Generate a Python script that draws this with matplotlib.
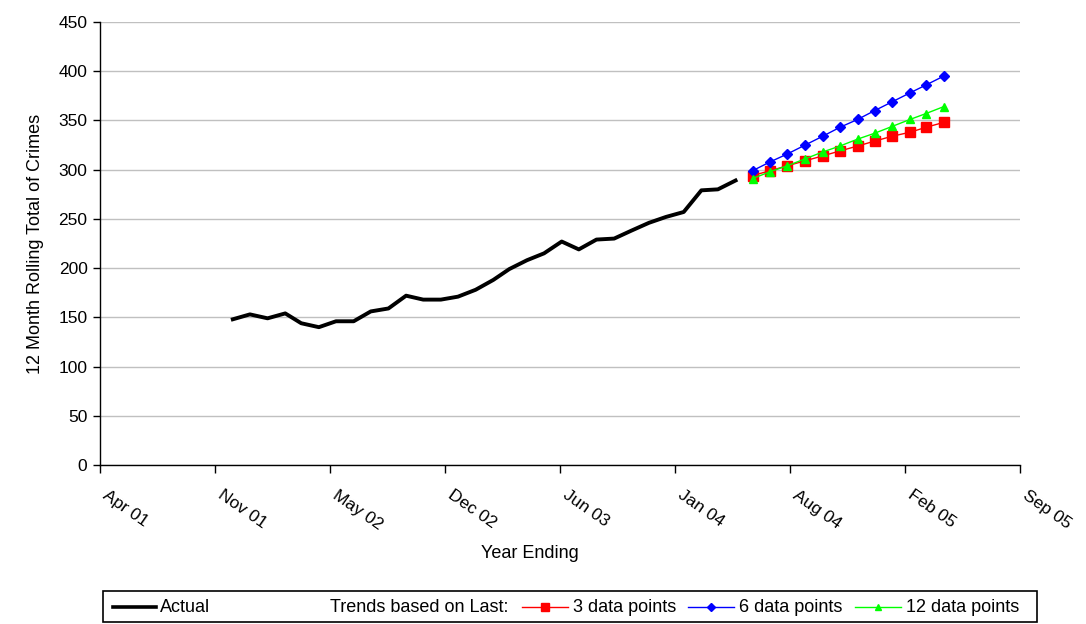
import datetime as dt
import numpy as np
import matplotlib
matplotlib.use("Agg")
import matplotlib.pyplot as plt
import matplotlib.dates as mdates
import matplotlib.transforms as mtransforms
from matplotlib.lines import Line2D
from matplotlib.patches import Rectangle

plt.rcParams["font.family"] = ["Liberation Sans", "DejaVu Sans"]

# 12 month rolling totals, Nov 2001 - Apr 2004
actual_months = [(2001, m) for m in (11, 12)] + [(2002, m) for m in range(1, 13)] \
    + [(2003, m) for m in range(1, 13)] + [(2004, m) for m in range(1, 5)]
actual_values = [148, 153, 149, 154, 144, 140, 146, 146, 156, 159, 172, 168,
                 168, 171, 178, 188, 199, 208, 215, 227, 219, 229, 230, 238,
                 246, 252, 257, 279, 280, 289]

# Projections, May 2004 - Apr 2005
trend_months = [(2004, m) for m in range(5, 13)] + [(2005, m) for m in range(1, 5)]
trend_3 = [294, 299, 304, 309, 314, 319, 324, 329, 334, 338, 343, 348]
trend_6 = [299, 308, 316, 325, 334, 343, 351, 360, 369, 378, 386, 395]
trend_12 = [291, 298, 304, 311, 318, 324, 331, 337, 344, 351, 357, 364]

tick_labels = ["Apr 01", "Nov 01", "May 02", "Dec 02", "Jun 03",
               "Jan 04", "Aug 04", "Feb 05", "Sep 05"]
y_ticks = list(range(0, 451, 50))

def to_dates(months):
    return [dt.date(y, m, 20) for y, m in months]

W, H = 1086, 624
fig = plt.figure(figsize=(W / 100, H / 100), dpi=100)
ax = fig.add_axes([100 / W, 1 - 465 / H, 920 / W, 443 / H])

x_start = mdates.date2num(dt.date(2001, 4, 1))
x_end = mdates.date2num(dt.date(2005, 9, 1))
ax.set_xlim(x_start, x_end)
ax.set_ylim(0, 450)

ax.plot(to_dates(actual_months), actual_values, color="black", lw=2.8,
        solid_joinstyle="round", zorder=5)
td = to_dates(trend_months)
ax.plot(td, trend_3, color="#ff0000", lw=1.0, marker="s", ms=6.5,
        mec="#ff0000", mfc="#ff0000", zorder=6)
ax.plot(td, trend_6, color="#0000ff", lw=1.0, marker="D", ms=5.5,
        mec="#0000ff", mfc="#0000ff", zorder=6)
ax.plot(td, trend_12, color="#00ff00", lw=1.0, marker="^", ms=6.0,
        mec="#00ff00", mfc="#00ff00", zorder=7)

# axes styling
for s in ("top", "right"):
    ax.spines[s].set_visible(False)
for s in ("left", "bottom"):
    ax.spines[s].set_color("black")
    ax.spines[s].set_linewidth(1.0)
ax.set_yticks(y_ticks)
ax.yaxis.grid(True, color="#c0c0c0", lw=1.0)
ax.set_axisbelow(True)
ax.tick_params(axis="y", direction="out", length=5, width=1, labelsize=12.5,
               pad=4, colors="black")
ax.set_xticks(np.linspace(x_start, x_end, len(tick_labels)))
ax.set_xticklabels(tick_labels, rotation=-35, ha="left", va="top",
                   rotation_mode="anchor", fontsize=12.5)
ax.tick_params(axis="x", direction="out", length=6, width=1, pad=10)
shift = mtransforms.ScaledTranslation(9 / 100, 0, fig.dpi_scale_trans)
for lbl in ax.get_xticklabels():
    lbl.set_transform(lbl.get_transform() + shift)

ax.set_ylabel("12 Month Rolling Total of Crimes", fontsize=13, labelpad=10)
ax.set_xlabel("Year Ending", fontsize=13)
ax.xaxis.set_label_coords(430 / 920, -80 / 443)

# legend strip along the bottom
def fx(px):
    return px / W

def fy(py):
    return 1 - py / H

fig.add_artist(Rectangle((fx(103), fy(622)), fx(1037) - fx(103), fy(591) - fy(622),
                         transform=fig.transFigure, fill=False, ec="black", lw=1.2))
yc = fy(607)
fig.add_artist(Line2D([fx(113), fx(156)], [yc, yc], color="black", lw=2.6,
                      transform=fig.transFigure))
fig.text(fx(160), yc, "Actual", fontsize=13, va="center", ha="left")
fig.text(fx(330), yc, "Trends based on Last:", fontsize=13, va="center", ha="left")

entries = [
    (522, "#ff0000", "s", 5.5, "3 data points"),
    (688, "#0000ff", "D", 4.5, "6 data points"),
    (855, "#00ff00", "^", 5.0, "12 data points"),
]
for x0, col, mk, ms, label in entries:
    fig.add_artist(Line2D([fx(x0), fx(x0 + 46)], [yc, yc], color=col, lw=1.0,
                          transform=fig.transFigure))
    fig.add_artist(Line2D([fx(x0 + 23)], [yc], color=col, marker=mk, ms=ms,
                          mec=col, mfc=col, transform=fig.transFigure))
    fig.text(fx(x0 + 51), yc, label, fontsize=13, va="center", ha="left")

fig.savefig("out.png", dpi=100, facecolor="white")
